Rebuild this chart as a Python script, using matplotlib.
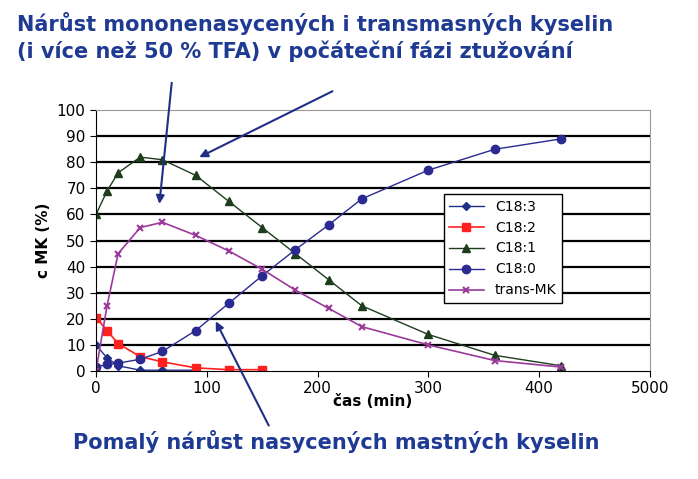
import matplotlib.pyplot as plt

t_c183 = [0, 10, 20, 40, 60, 90]
c183 = [10, 5, 2, 0.3, 0.3, 0.3]
t_c182 = [0, 10, 20, 40, 60, 90, 120, 150]
c182 = [20.5, 15.5, 10.5, 5.5, 3.5, 1.2, 0.5, 0.5]
t_all = [0, 10, 20, 40, 60, 90, 120, 150, 180, 210, 240, 300, 360, 420]
c181 = [60, 69, 76, 82, 81, 75, 65, 55, 45, 35, 25, 14, 6, 2]
c180 = [1.5, 2.5, 3, 4.5, 7.5, 15.5, 26, 36.5, 46.5, 56, 66, 77, 85, 89]
trans_mk = [0, 25, 45, 55, 57, 52, 46, 39, 31, 24, 17, 10, 4, 1.5]

navy = "#1f2f86"
title_blue = "#1f3a93"

fig = plt.figure(figsize=(6.98, 4.79), dpi=100)
ax = fig.add_axes([0.1375, 0.2255, 0.7935, 0.5445])

ax.plot(t_c183, c183, color=navy, marker="D", ms=4, lw=1, label="C18:3")
ax.plot(t_c182, c182, color="#ff2020", marker="s", ms=6, lw=1.2, label="C18:2")
ax.plot(t_all, c181, color="#1d3d1d", marker="^", ms=6, lw=1, label="C18:1")
ax.plot(t_all, c180, color="#2a2a90", marker="o", ms=6, lw=1, label="C18:0")
ax.plot(t_all, trans_mk, color="#9a3a9a", marker="x", ms=5, mew=1.5, lw=1.2, label="trans-MK")

ax.set_xlim(0, 500)
ax.set_ylim(0, 100)
ax.set_xticks([0, 100, 200, 300, 400, 500])
ax.set_xticklabels(["0", "100", "200", "300", "400", "5000"])
ax.set_yticks(range(0, 101, 10))
ax.tick_params(labelsize=11, length=4)
for y in range(10, 100, 10):
    ax.axhline(y, color="black", lw=1.6, zorder=0)
for s in ["top", "right"]:
    ax.spines[s].set_color("#999999")
ax.set_xlabel("čas (min)", fontsize=11, fontweight="bold", labelpad=-2)
ax.set_ylabel("c MK (%)", fontsize=11, fontweight="bold")

ax.legend(loc="upper left", bbox_to_anchor=(0.615, 0.705), fontsize=10,
          fancybox=False, edgecolor="black", framealpha=1, handlelength=2.5)

fig.text(0.025, 0.975, "Nárůst mononenasycených i transmasných kyselin\n(i více než 50 % TFA) v počáteční fázi ztužování",
         fontsize=15, fontweight="bold", color=title_blue, va="top", linespacing=1.3)
fig.text(0.105, 0.055, "Pomalý nárůst nasycených mastných kyselin",
         fontsize=15, fontweight="bold", color=title_blue, va="bottom")

arrow = dict(arrowstyle="-|>", color=navy, lw=1.5, mutation_scale=12)
ax.annotate("", xy=(91, 81.5), xytext=(335, 479 - 90), xycoords="data",
            textcoords="figure pixels", arrowprops=arrow)
ax.annotate("", xy=(57, 63), xytext=(172, 479 - 80), xycoords="data",
            textcoords="figure pixels", arrowprops=arrow)
ax.annotate("", xy=(107, 20), xytext=(270, 479 - 428), xycoords="data",
            textcoords="figure pixels", arrowprops=arrow)

fig.savefig("out.png", dpi=100)
